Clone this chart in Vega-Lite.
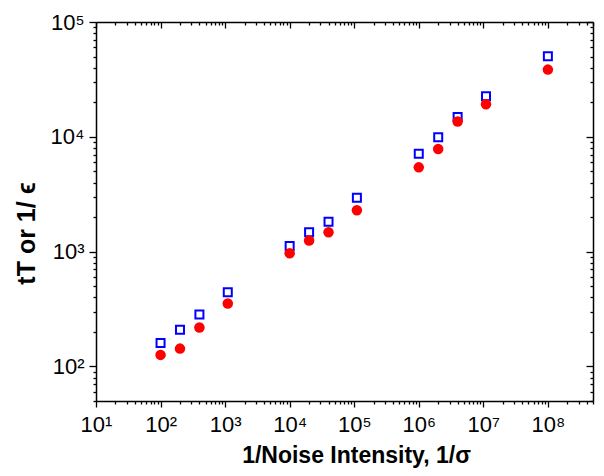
{
  "$schema": "https://vega.github.io/schema/vega-lite/v6.json",
  "width": 497,
  "height": 379,
  "autosize": "none",
  "padding": {"left": 96, "top": 22, "right": 11, "bottom": 75},
  "background": "white",
  "config": {
    "view": {"stroke": null},
    "font": "Liberation Sans",
    "axis": {
      "grid": false,
      "domainColor": "black",
      "domainWidth": 1.5,
      "tickColor": "black",
      "tickWidth": 1.3,
      "labelFont": "Liberation Sans",
      "labelFontSize": 22,
      "labelColor": "black",
      "titleFont": "Liberation Sans",
      "titleFontSize": 23,
      "titleFontWeight": "bold",
      "titleColor": "black",
      "labelFlush": false,
      "labelOverlap": false
    }
  },
  "data": {
    "values": [
      {"noise": 100, "tT": 160, "inv_eps": 126},
      {"noise": 200, "tT": 209, "inv_eps": 143},
      {"noise": 400, "tT": 283, "inv_eps": 218},
      {"noise": 1100, "tT": 443, "inv_eps": 353},
      {"noise": 10000, "tT": 1122, "inv_eps": 968},
      {"noise": 20000, "tT": 1476, "inv_eps": 1250},
      {"noise": 40000, "tT": 1824, "inv_eps": 1476},
      {"noise": 110000, "tT": 2951, "inv_eps": 2291},
      {"noise": 1000000, "tT": 7110, "inv_eps": 5420},
      {"noise": 2000000, "tT": 9930, "inv_eps": 7820},
      {"noise": 4000000, "tT": 14900, "inv_eps": 13600},
      {"noise": 11000000, "tT": 22600, "inv_eps": 19200},
      {"noise": 100000000, "tT": 50300, "inv_eps": 38500}
    ]
  },
  "resolve": {"axis": {"x": "independent", "y": "independent"}},
  "layer": [
    {
      "mark": {"type": "point", "shape": "square", "filled": false, "stroke": "#0000ff", "strokeWidth": 2, "size": 64, "opacity": 1},
      "encoding": {
        "x": {
          "field": "noise", "type": "quantitative",
          "scale": {"type": "log", "domain": [10, 500000000], "nice": false},
          "axis": {
            "orient": "bottom",
            "title": "1/Noise Intensity, 1/σ",
            "titleX": 260,
            "titlePadding": 9,
            "labelPadding": 7,
            "values": [10,20,30,40,50,60,70,80,90,100,200,300,400,500,600,700,800,900,1000,2000,3000,4000,5000,6000,7000,8000,9000,10000,20000,30000,40000,50000,60000,70000,80000,90000,100000,200000,300000,400000,500000,600000,700000,800000,900000,1000000,2000000,3000000,4000000,5000000,6000000,7000000,8000000,9000000,10000000,20000000,30000000,40000000,50000000,60000000,70000000,80000000,90000000,100000000,200000000,300000000,400000000,500000000],
            "labelExpr": "abs(log(datum.value)/LN10 - round(log(datum.value)/LN10)) < 1e-6 ? '10' + ['⁰','¹','²','³','⁴','⁵','⁶','⁷','⁸','⁹'][round(log(datum.value)/LN10)] : ''",
            "tickSize": {"condition": {"test": "abs(log(datum.value)/LN10 - round(log(datum.value)/LN10)) < 1e-6", "value": 6}, "value": 3}
          }
        },
        "y": {
          "field": "tT", "type": "quantitative",
          "scale": {"type": "log", "domain": [50, 100000], "nice": false},
          "axis": {
            "orient": "left",
            "title": "tT or 1/ ϵ",
            "titleFontSize": 25,
            "titleY": 211,
            "titlePadding": 11,
            "labelPadding": 5,
            "values": [50,60,70,80,90,100,200,300,400,500,600,700,800,900,1000,2000,3000,4000,5000,6000,7000,8000,9000,10000,20000,30000,40000,50000,60000,70000,80000,90000,100000],
            "labelExpr": "abs(log(datum.value)/LN10 - round(log(datum.value)/LN10)) < 1e-6 ? '10' + ['⁰','¹','²','³','⁴','⁵','⁶','⁷','⁸','⁹'][round(log(datum.value)/LN10)] : ''",
            "tickSize": {"condition": {"test": "abs(log(datum.value)/LN10 - round(log(datum.value)/LN10)) < 1e-6", "value": 7}, "value": 3}
          }
        }
      }
    },
    {
      "mark": {"type": "circle", "color": "#ff0000", "size": 110, "opacity": 1},
      "encoding": {
        "x": {
          "field": "noise", "type": "quantitative",
          "scale": {"type": "log", "domain": [10, 500000000], "nice": false},
          "axis": {
            "orient": "top",
            "title": null,
            "labels": false,
            "values": [10,20,30,40,50,60,70,80,90,100,200,300,400,500,600,700,800,900,1000,2000,3000,4000,5000,6000,7000,8000,9000,10000,20000,30000,40000,50000,60000,70000,80000,90000,100000,200000,300000,400000,500000,600000,700000,800000,900000,1000000,2000000,3000000,4000000,5000000,6000000,7000000,8000000,9000000,10000000,20000000,30000000,40000000,50000000,60000000,70000000,80000000,90000000,100000000,200000000,300000000,400000000,500000000],
            "tickSize": {"condition": {"test": "abs(log(datum.value)/LN10 - round(log(datum.value)/LN10)) < 1e-6", "value": -6}, "value": -3}
          }
        },
        "y": {
          "field": "inv_eps", "type": "quantitative",
          "scale": {"type": "log", "domain": [50, 100000], "nice": false},
          "axis": {
            "orient": "right",
            "title": null,
            "labels": false,
            "values": [50,60,70,80,90,100,200,300,400,500,600,700,800,900,1000,2000,3000,4000,5000,6000,7000,8000,9000,10000,20000,30000,40000,50000,60000,70000,80000,90000,100000],
            "tickSize": {"condition": {"test": "abs(log(datum.value)/LN10 - round(log(datum.value)/LN10)) < 1e-6", "value": -7}, "value": -3}
          }
        }
      }
    }
  ]
}
